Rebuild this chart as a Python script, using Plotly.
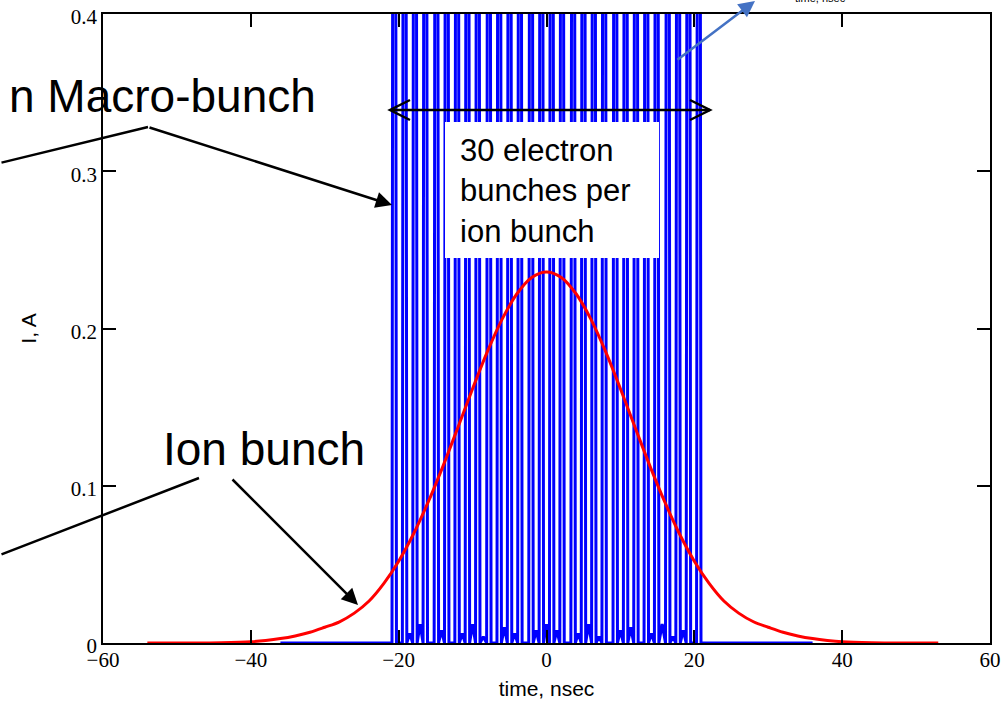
import plotly.graph_objects as go

# ---------------- data ----------------
# electron bunch centres, ns (30 bunches)
pulse_centres = [-20.6, -19.2, -17.8, -16.4, -14.9, -13.5, -12.1, -10.7, -9.3, -7.8,
                 -6.4, -5.0, -3.6, -2.1, -0.7, 0.7, 2.1, 3.6, 5.0, 6.4,
                 7.8, 9.3, 10.7, 12.1, 13.5, 14.9, 16.4, 17.8, 19.2, 20.6]
# electron bunch peak current, A (all far above the 0.4 A axis limit)
pulse_peaks = [1.5] * 30
# small residual bumps between neighbouring bunches, A (29 gaps)
gap_bumps = [0.0, 0.006, 0.012, 0.0, 0.008, 0.0, 0.006, 0.012, 0.004, 0.0,
             0.010, 0.006, 0.0, 0.008, 0.012, 0.008, 0.0, 0.006, 0.012, 0.004,
             0.0, 0.008, 0.010, 0.0, 0.006, 0.012, 0.004, 0.008, 0.0]
electron_span = [-36.0, 36.0]

# ion bunch current, A
ion_t = [-54, -48, -44, -40, -38, -36, -34, -32, -30, -28, -26, -24, -22, -20, -18,
         -16, -14, -12, -10, -8, -6, -4, -2, 0, 2, 4, 6, 8, 10, 12, 14, 16, 18,
         20, 22, 24, 26, 28, 30, 32, 34, 36, 38, 40, 44, 48, 53]
ion_i = [0.0, 0.0, 0.0002, 0.0008, 0.0016, 0.0028, 0.0045, 0.0068, 0.0100, 0.0135,
         0.0190, 0.0267, 0.0379, 0.0520, 0.0693, 0.0897, 0.1125, 0.1369, 0.1617,
         0.1853, 0.2060, 0.2221, 0.2325, 0.2360, 0.2325, 0.2221, 0.2060, 0.1853,
         0.1617, 0.1369, 0.1125, 0.0897, 0.0693, 0.0520, 0.0379, 0.0267, 0.0190,
         0.0135, 0.0100, 0.0068, 0.0045, 0.0028, 0.0016, 0.0008, 0.0002, 0.0, 0.0]

x_ticks = [-60, -40, -20, 0, 20, 40, 60]
y_ticks = [0, 0.1, 0.2, 0.3, 0.4]

# ---------------- build electron polyline ----------------
HALF = 0.3  # half base width of a bunch spike (style)
ex, ey = [electron_span[0]], [0.0]
for i, (c, p) in enumerate(zip(pulse_centres, pulse_peaks)):
    ex += [c - HALF, c, c + HALF]
    ey += [0.0, p, 0.0]
    if i < len(gap_bumps):
        ex.append((c + pulse_centres[i + 1]) / 2)
        ey.append(gap_bumps[i])
ex.append(electron_span[1])
ey.append(0.0)

fig = go.Figure()
fig.add_trace(go.Scatter(x=ex, y=ey, mode="lines",
                         line=dict(color="#0000FF", width=3), showlegend=False))
fig.add_trace(go.Scatter(x=ion_t, y=ion_i, mode="lines",
                         line=dict(color="#FF0000", width=3, shape="spline"),
                         showlegend=False))

# ---------------- layout ----------------
W, H = 1004, 701
L, R, T, B = 103, 14, 14, 58
PW, PH = W - L - R, H - T - B


def px(xp):
    return (xp - L) / PW


def py(yp):
    return (H - B - yp) / PH


serif = dict(family="Liberation Serif, 'Times New Roman', 'DejaVu Serif', serif",
             size=21, color="black")
axis_common = dict(showline=True, linecolor="black", linewidth=1.5, mirror="ticks",
                   ticks="inside", ticklen=13, tickwidth=1.5, tickcolor="black",
                   showgrid=False, zeroline=False, automargin=False,
                   tickfont=serif)

fig.update_layout(
    width=W, height=H,
    margin=dict(l=L, r=R, t=T, b=B, autoexpand=False),
    paper_bgcolor="white", plot_bgcolor="white",
    font=serif,
    xaxis=dict(range=[-60, 60], tickvals=x_ticks, ticklabelstandoff=-3,
               title=dict(text="time, nsec", standoff=10,
                          font=dict(family="Liberation Sans", size=21, color="black")),
               **axis_common),
    yaxis=dict(range=[0, 0.4], tickvals=y_ticks, ticklabelshift=3,
               title=dict(text="I, A", standoff=28,
                          font=dict(family="Liberation Sans", size=21, color="black")),
               **axis_common),
)

# white box behind the "30 electron bunches" label
fig.add_shape(type="rect", xref="paper", yref="paper",
              x0=px(445), x1=px(659), y0=py(258), y1=py(122),
              fillcolor="white", line=dict(width=0), layer="above")

big = dict(family="Liberation Sans", size=46, color="black")
fig.add_annotation(text="n Macro-bunch", xref="paper", yref="paper",
                   x=px(318), y=py(96), xanchor="right", yanchor="middle",
                   showarrow=False, font=big)
fig.add_annotation(text="Ion bunch", xref="paper", yref="paper",
                   x=px(264), y=py(449), xanchor="center", yanchor="middle",
                   showarrow=False, font=big)
fig.add_annotation(text="30 electron<br>bunches per<br>ion bunch", xref="paper",
                   yref="paper", x=px(458), y=py(191), xanchor="left",
                   yanchor="middle", align="left", showarrow=False,
                   font=dict(family="Liberation Sans", size=31, color="black"))
fig.add_annotation(text="time, nsec", xref="paper", yref="paper",
                   x=px(820), y=py(-2), xanchor="center", yanchor="middle",
                   showarrow=False,
                   font=dict(family="Liberation Sans", size=11, color="black"))


def arrow(head, tail, head_style=2, color="black", width=2.5, size=1.3):
    fig.add_annotation(text="", xref="paper", yref="paper",
                       x=px(head[0]), y=py(head[1]),
                       ax=tail[0] - head[0], ay=tail[1] - head[1],
                       axref="pixel", ayref="pixel",
                       showarrow=True, arrowhead=head_style, arrowcolor=color,
                       arrowwidth=width, arrowsize=size)


def chevron(tip, back, half):
    path = (f"M {px(back)},{py(110 - half)} L {px(tip)},{py(110)} "
            f"L {px(back)},{py(110 + half)}")
    fig.add_shape(type="path", xref="paper", yref="paper", path=path,
                  line=dict(color="black", width=2.5), layer="above")


arrow((148, 127), (0, 163), head_style=0)
arrow((392, 205), (148, 127))
arrow((199, 478), (0, 555), head_style=0)
arrow((358, 605), (231, 478))
arrow((710, 110), (390, 110), head_style=0)
chevron(390, 410, 10)
chevron(710, 690, 10)
arrow((755, -1), (676, 61), color="#4472C4", width=2.5, size=1.3)

fig.write_html("out.html", config={"displayModeBar": False},
               post_script="document.body.style.margin='0';"
                           "document.body.style.padding='0';")
